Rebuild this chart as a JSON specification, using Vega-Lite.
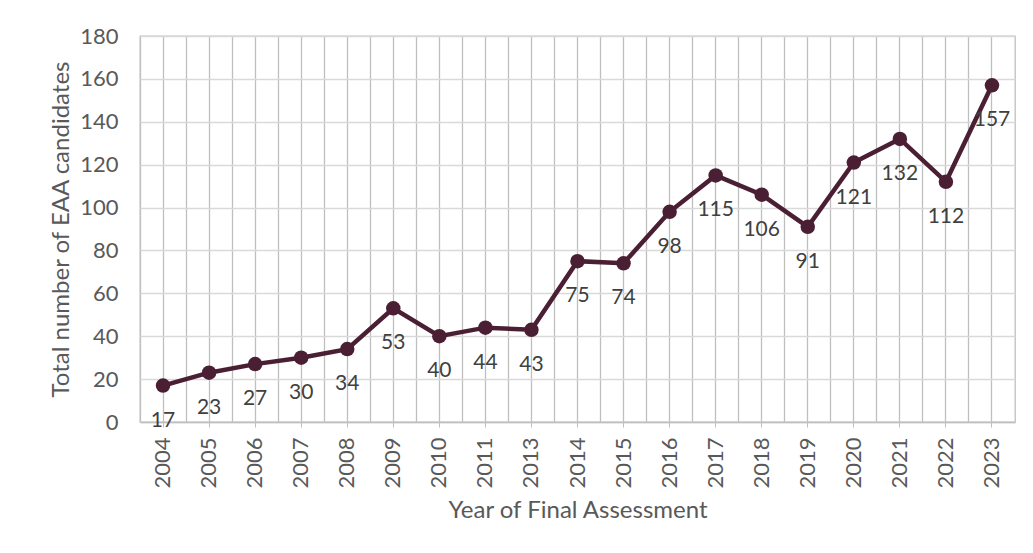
{
  "$schema": "https://vega.github.io/schema/vega-lite/v6.json",
  "autosize": {"type": "none"},
  "width": 875,
  "height": 386,
  "padding": {"left": 140, "top": 36, "right": 18, "bottom": 131},
  "background": "white",
  "config": {
    "font": "Lato",
    "view": {"stroke": "#bfbfbf", "strokeWidth": 1.3},
    "axis": {"labelColor": "#595959", "titleColor": "#595959", "labelFont": "Lato", "titleFont": "Lato", "titleFontWeight": "normal"}
  },
  "data": {
    "values": [
      {"year": "2004", "n": 17}, {"year": "2005", "n": 23}, {"year": "2006", "n": 27},
      {"year": "2007", "n": 30}, {"year": "2008", "n": 34}, {"year": "2009", "n": 53},
      {"year": "2010", "n": 40}, {"year": "2011", "n": 44}, {"year": "2013", "n": 43},
      {"year": "2014", "n": 75}, {"year": "2015", "n": 74}, {"year": "2016", "n": 98},
      {"year": "2017", "n": 115}, {"year": "2018", "n": 106}, {"year": "2019", "n": 91},
      {"year": "2020", "n": 121}, {"year": "2021", "n": 132}, {"year": "2022", "n": 112},
      {"year": "2023", "n": 157}
    ]
  },
  "layer": [
    {
      "mark": {"type": "line", "color": "#4b1f33", "strokeWidth": 4.5},
      "encoding": {
        "x": {"field": "year", "type": "ordinal", "sort": null,
          "scale": {"type": "band", "paddingInner": 0, "paddingOuter": 0},
          "axis": {"orient": "bottom", "bandPosition": 0.5, "grid": true, "gridColor": "#bfbfbf", "gridWidth": 1.3,
            "labelAngle": -90, "labelFontSize": 22, "labelPadding": 10, "labelBaseline": "middle", "labelAlign": "right",
            "ticks": true, "tickSize": 5, "tickColor": "#bfbfbf", "domainColor": "#bfbfbf", "domainWidth": 1.3,
            "title": "Year of Final Assessment", "titleFontSize": 24, "titlePadding": 10}},
        "y": {"field": "n", "type": "quantitative",
          "scale": {"domain": [0, 180], "nice": false},
          "axis": {"values": [0, 20, 40, 60, 80, 100, 120, 140, 160, 180], "grid": true, "gridColor": "#d9d9d9", "gridWidth": 1.3,
            "domain": false, "ticks": false, "labelFontSize": 22, "labelPadding": 22,
            "title": "Total number of EAA candidates", "titleFontSize": 24, "titlePadding": 6}}
      }
    },
    {
      "mark": {"type": "point", "filled": true, "opacity": 1, "color": "#4b1f33", "size": 210},
      "encoding": {
        "x": {"field": "year", "type": "ordinal", "sort": null,
          "axis": {"orient": "top", "bandPosition": 0, "grid": true, "gridColor": "#bfbfbf", "gridWidth": 1.3,
            "labels": false, "ticks": false, "domain": false, "title": null}},
        "y": {"field": "n", "type": "quantitative"}
      }
    },
    {
      "mark": {"type": "text", "dy": 35, "baseline": "middle", "align": "center", "fontSize": 21, "color": "#404040", "font": "Lato"},
      "encoding": {
        "x": {"field": "year", "type": "ordinal", "sort": null, "axis": null},
        "y": {"field": "n", "type": "quantitative"},
        "text": {"field": "n", "type": "quantitative"}
      }
    }
  ],
  "resolve": {"axis": {"x": "independent"}}
}
